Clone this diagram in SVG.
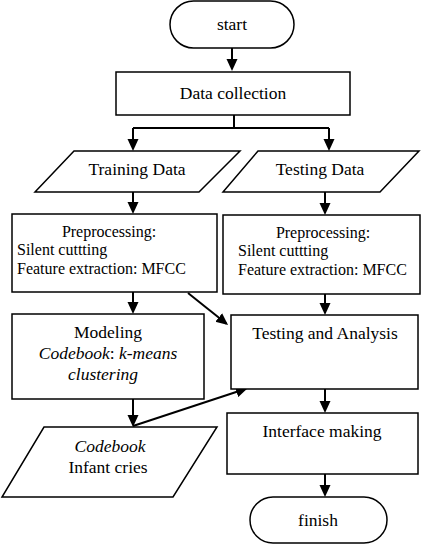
<svg xmlns="http://www.w3.org/2000/svg" width="422" height="548" viewBox="0 0 422 548">
<defs>
<style>
.s{fill:#fff;stroke:#000;stroke-width:1.5}
.t{font-family:'Liberation Serif',serif;font-size:17.5px;fill:#000}
.m{text-anchor:middle}
.p{font-size:16px}
.i{font-style:italic}
.c{fill:none;stroke:#000;stroke-width:2}
</style>
<marker id="ah" markerUnits="userSpaceOnUse" markerWidth="12" markerHeight="12" viewBox="0 0 12 12" refX="10" refY="6" orient="auto">
<path d="M0,0.5 L12,6 L0,11.5 z" fill="#000"/>
</marker>
</defs>
<rect width="422" height="548" fill="#fff"/>
<g id="connectors">
<path class="c" d="M232,48 V69" marker-end="url(#ah)"/>
<path class="c" d="M234,115 V128 M133,128 H329"/>
<path class="c" d="M133,128 V149" marker-end="url(#ah)"/>
<path class="c" d="M329,128 V149" marker-end="url(#ah)"/>
<path class="c" d="M133,192 V212" marker-end="url(#ah)"/>
<path class="c" d="M325,192 V213" marker-end="url(#ah)"/>
<path class="c" d="M133,292 V312" marker-end="url(#ah)"/>
<path class="c" d="M188,293 L226.5,323.8" marker-end="url(#ah)"/>
<path class="c" d="M325,294 V313" marker-end="url(#ah)"/>
<path class="c" d="M133,399 V425" marker-end="url(#ah)"/>
<path class="c" d="M133,426 L246,388.7" marker-end="url(#ah)"/>
<path class="c" d="M325,389 V411" marker-end="url(#ah)"/>
<path class="c" d="M325,474 V495" marker-end="url(#ah)"/>
</g>
<g font-family="Liberation Serif, serif">
<g id="start">
<rect class="s" x="170" y="1" width="124" height="47" rx="23.5"/>
<text class="t m" x="232" y="30">start</text>
</g>
<g id="data-collection">
<rect class="s" x="116" y="72" width="234" height="43"/>
<text class="t m" x="233" y="99">Data collection</text>
</g>
<g id="training-data">
<polygon class="s" points="74,151 240,151 199,192 35,192"/>
<text class="t m" x="137" y="175">Training Data</text>
</g>
<g id="testing-data">
<polygon class="s" points="258,151 419,151 380,192 223,192"/>
<text class="t m" x="320" y="175">Testing Data</text>
</g>
<g id="preprocessing-train">
<rect class="s" x="12" y="214" width="205" height="78"/>
<text class="t p m" x="109" y="237">Preprocessing:</text>
<text class="t p" x="17" y="255">Silent cuttting</text>
<text class="t p" x="17" y="274">Feature extraction: MFCC</text>
</g>
<g id="preprocessing-test">
<rect class="s" x="223" y="215" width="197" height="79"/>
<text class="t p m" x="323" y="238">Preprocessing:</text>
<text class="t p" x="238" y="256">Silent cuttting</text>
<text class="t p" x="238" y="275">Feature extraction: MFCC</text>
</g>
<g id="modeling">
<rect class="s" x="12" y="314" width="192" height="85"/>
<text class="t m" x="108" y="338">Modeling</text>
<text class="t m" x="108" y="359"><tspan class="i">Codebook</tspan>: <tspan class="i">k-means</tspan></text>
<text class="t m i" x="103" y="380">clustering</text>
</g>
<g id="testing-analysis">
<rect class="s" x="231" y="315" width="187" height="74"/>
<text class="t m" x="325" y="339">Testing and Analysis</text>
</g>
<g id="codebook">
<polygon class="s" points="44,427 217,427 173,497 2,497"/>
<text class="t m i" x="110" y="452">Codebook</text>
<text class="t m" x="108" y="473">Infant cries</text>
</g>
<g id="interface-making">
<rect class="s" x="227" y="413" width="191" height="61"/>
<text class="t m" x="322" y="437">Interface making</text>
</g>
<g id="finish">
<rect class="s" x="250" y="497" width="137" height="46" rx="23"/>
<text class="t m" x="318" y="526">finish</text>
</g>
</g>
</svg>
